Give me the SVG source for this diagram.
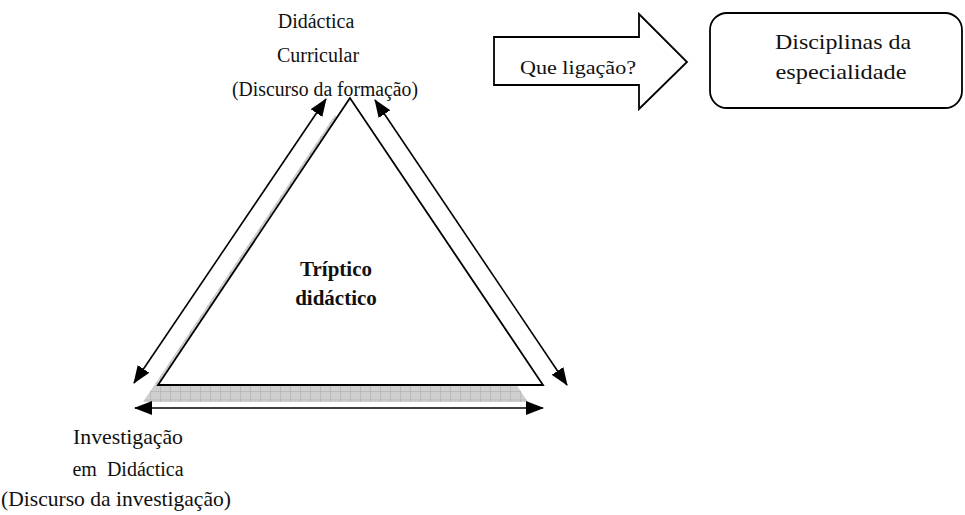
<svg xmlns="http://www.w3.org/2000/svg" width="965" height="515" viewBox="0 0 965 515">
<defs>
<style>
.t{font-family:"Liberation Serif","Times New Roman",serif;fill:#111;text-anchor:middle;white-space:pre}
.edge{stroke:#000;stroke-width:1.6;fill:none}
.shape{fill:#fff;stroke:#000;stroke-width:1.8}
</style>
<marker id="ah" viewBox="0 0 18 14" refX="17" refY="7" markerWidth="18" markerHeight="14" markerUnits="userSpaceOnUse" orient="auto-start-reverse">
<path d="M0,0 L18,7 L0,14 z" fill="#000"/>
</marker>
<pattern id="grid" width="10" height="8.5" patternUnits="userSpaceOnUse">
<rect width="10" height="8.5" fill="#cfcfcf"/>
<path d="M0,0 H10 M0,0 V8.5" stroke="#a8a8a8" stroke-width="1"/>
</pattern>
</defs>
<rect width="965" height="515" fill="#fff"/>

<g id="triangle">
<polygon points="335,115 143,402 528,402" fill="url(#grid)"/>
<polygon class="shape" points="350,98 158,385 543,385"/>
<text class="t" x="336" y="276" font-size="21" font-weight="bold">Tríptico</text>
<text class="t" x="336" y="305" font-size="21" font-weight="bold">didáctico</text>
</g>

<g id="node-curricular">
<text class="t" x="316" y="28" font-size="20">Didáctica</text>
<text class="t" x="318" y="62" font-size="20">Curricular</text>
<text class="t" x="325" y="96" font-size="20" textLength="186" lengthAdjust="spacingAndGlyphs">(Discurso da formação)</text>
</g>

<g id="node-investigacao">
<text class="t" x="128" y="444" font-size="21" textLength="110" lengthAdjust="spacingAndGlyphs">Investigação</text>
<text class="t" x="128" y="476" font-size="20" xml:space="preserve">em  Didáctica</text>
<text class="t" x="116" y="506" font-size="21" textLength="230" lengthAdjust="spacingAndGlyphs">(Discurso da investigação)</text>
</g>

<g id="node-ligacao">
<polygon class="shape" stroke-width="1.5" points="494,37 639,37 639,14 687,62 639,109 639,85 494,85"/>
<text class="t" x="578" y="74" font-size="19" textLength="116" lengthAdjust="spacingAndGlyphs">Que ligação?</text>
</g>

<g id="node-disciplinas">
<rect class="shape" stroke-width="1.5" x="710" y="13" width="252" height="95" rx="17" ry="17"/>
<text class="t" x="843" y="49" font-size="22" textLength="136" lengthAdjust="spacingAndGlyphs">Disciplinas da</text>
<text class="t" x="841" y="79" font-size="22" textLength="131" lengthAdjust="spacingAndGlyphs">especialidade</text>
</g>

<g id="connectors">
<line class="edge" x1="134" y1="383" x2="326" y2="99" marker-start="url(#ah)" marker-end="url(#ah)"/>
<line class="edge" x1="375" y1="100" x2="567" y2="385" marker-start="url(#ah)" marker-end="url(#ah)"/>
<line class="edge" x1="135" y1="408" x2="543" y2="408" marker-start="url(#ah)" marker-end="url(#ah)"/>
</g>
</svg>
